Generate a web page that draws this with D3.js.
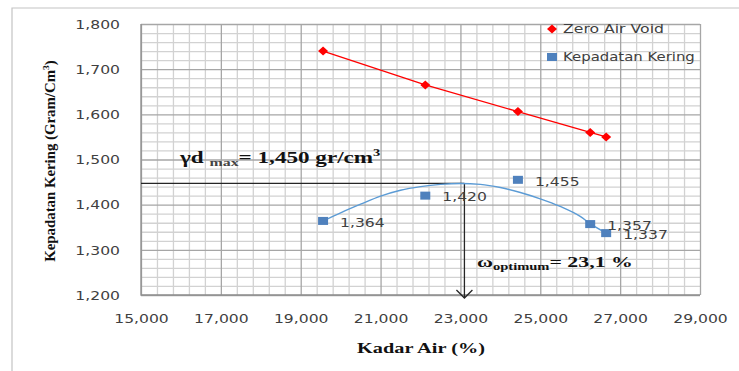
<!DOCTYPE html>
<html><head><meta charset="utf-8">
<script src="https://cdn.jsdelivr.net/npm/d3@7"></script>
<style>body{margin:0;background:#fff}svg{display:block}</style></head>
<body>
<svg id="c" width="739" height="371"></svg>
<script>
// ---- data ----
const xTicks = [15000, 17000, 19000, 21000, 23000, 25000, 27000, 29000];
const yTicks = [1200, 1300, 1400, 1500, 1600, 1700, 1800];
const moisture = [19560, 22120, 24440, 26250, 26650];
const zeroAirVoid = [1740, 1665, 1606, 1560, 1550];
const dryDensity = [1364, 1420, 1455, 1357, 1337];
const trendMoisture = [19560, 20000, 20500, 21000, 21500, 22000, 22500, 23000, 23500, 24000, 24500, 25000, 25500, 26000, 26250, 26650];
const trendDensity = [1364, 1382, 1401, 1419, 1432, 1440, 1445, 1447, 1445, 1438, 1427, 1413, 1396, 1374, 1358, 1337];
const seriesNames = ["Zero Air Void", "Kepadatan Kering"];
const maxDensityLine = 1447;
const maxDensityText = "1,450";
const optimumMoisture = 23100;
const optimumText = "23,1 %";

// ---- setup ----
const svg = d3.select("#c");
const L = 141, R = 700, T = 24, B = 295;
const x = d3.scaleLinear().domain([15000, 29000]).range([L, R]);
const y = d3.scaleLinear().domain([1200, 1800]).range([B, T]);
const fmt = d3.format(",.0f");
const sans = "'DejaVu Sans', sans-serif";
const serif = "'Liberation Serif', 'Times New Roman', serif";
const RED = "#ff0000", BLUE = "#4f81bd", TREND = "#5b9bd5";

function fitWidth(t, px, py, width, rot) {
  const w = t.node().getBBox().width;
  const s = width / w;
  t.attr("x", 0).attr("y", 0)
   .attr("transform", `translate(${px},${py})` + (rot ? ` rotate(${rot})` : "") + ` scale(${s},1)`);
}

// outer border
svg.append("path").attr("d", "M12,371V8H739").attr("fill", "none").attr("stroke", "#c3c3c3").attr("stroke-width", 1.2);

// grid via axes
const minorX = d3.range(15000, 29001, 400);
const minorY = d3.range(1200, 1801, 20);
function grid(g, color) {
  g.select(".domain").remove();
  g.selectAll("line").attr("stroke", color).attr("stroke-width", 1.3);
  g.selectAll("text").remove();
}
svg.append("g").attr("transform", `translate(0,${B})`)
  .call(d3.axisBottom(x).tickValues(minorX.filter(v => !xTicks.includes(v))).tickSize(-(B - T)).tickFormat(""))
  .call(g => grid(g, "#d2d2d2"));
svg.append("g").attr("transform", `translate(${L},0)`)
  .call(d3.axisLeft(y).tickValues(minorY.filter(v => !yTicks.includes(v))).tickSize(-(R - L)).tickFormat(""))
  .call(g => grid(g, "#d2d2d2"));
svg.append("g").attr("transform", `translate(0,${B})`)
  .call(d3.axisBottom(x).tickValues(xTicks).tickSize(-(B - T)).tickFormat(""))
  .call(g => grid(g, "#a6a6a6"));
svg.append("g").attr("transform", `translate(${L},0)`)
  .call(d3.axisLeft(y).tickValues(yTicks).tickSize(-(R - L)).tickFormat(""))
  .call(g => grid(g, "#a6a6a6"));
// plot edges
svg.append("path").attr("d", `M${L},${T}V${B}H${R}`).attr("fill", "none").attr("stroke", "#8f8f8f").attr("stroke-width", 1.3);

// tick labels via axes
const TS = 1.3;
svg.append("g").attr("transform", `translate(${L},0)`)
  .call(d3.axisLeft(y).tickValues(yTicks).tickSize(0).tickFormat(fmt))
  .call(g => {
    g.select(".domain").remove();
    g.selectAll("text").attr("x", 0).attr("dy", "0.35em")
      .attr("font-family", sans).attr("font-size", 12).attr("fill", "#404040")
      .attr("text-anchor", "end").attr("transform", `translate(-21,0) scale(${TS},1)`);
  });
svg.append("g").attr("transform", `translate(0,${B})`)
  .call(d3.axisBottom(x).tickValues(xTicks).tickSize(0).tickFormat(fmt))
  .call(g => {
    g.select(".domain").remove();
    g.selectAll("text").attr("y", 0).attr("dy", "0.35em")
      .attr("font-family", sans).attr("font-size", 12).attr("fill", "#404040")
      .attr("text-anchor", "middle").attr("transform", `translate(0,24) scale(${TS},1)`);
  });

// annotation: max density line & optimum arrow
const xo = x(optimumMoisture), ym = y(maxDensityLine);
svg.append("line").attr("x1", L).attr("x2", xo).attr("y1", ym).attr("y2", ym)
  .attr("stroke", "#262626").attr("stroke-width", 1.3);
svg.append("line").attr("x1", xo).attr("x2", xo).attr("y1", ym).attr("y2", B + 3)
  .attr("stroke", "#262626").attr("stroke-width", 1.3);
svg.append("polyline").attr("points", `${xo - 8},${B - 5} ${xo},${B + 3} ${xo + 8},${B - 5}`)
  .attr("fill", "none").attr("stroke", "#262626").attr("stroke-width", 1.3);

// zero air void series
const zav = moisture.map((m, i) => [m, zeroAirVoid[i]]);
svg.append("path").datum(zav)
  .attr("d", d3.line().x(d => x(d[0])).y(d => y(d[1])))
  .attr("fill", "none").attr("stroke", RED).attr("stroke-width", 1.3);
const diamond = "M0,-4.5L5,0L0,4.5L-5,0Z";
svg.selectAll(".zav").data(zav).join("path").attr("class", "zav")
  .attr("d", diamond).attr("transform", d => `translate(${x(d[0])},${y(d[1])})`).attr("fill", RED);

// dry density trend & markers
const trend = trendMoisture.map((m, i) => [m, trendDensity[i]]);
svg.append("path").datum(trend)
  .attr("d", d3.line().x(d => x(d[0])).y(d => y(d[1])).curve(d3.curveMonotoneX))
  .attr("fill", "none").attr("stroke", TREND).attr("stroke-width", 1.4);
const dd = moisture.map((m, i) => [m, dryDensity[i]]);
svg.selectAll(".dd").data(dd).join("rect").attr("class", "dd")
  .attr("x", d => x(d[0]) - 5).attr("y", d => y(d[1]) - 4)
  .attr("width", 10).attr("height", 8).attr("fill", BLUE);
svg.selectAll(".ddl").data(dd).join("text").attr("class", "ddl")
  .attr("x", 0).attr("y", 0).attr("dy", "0.35em")
  .attr("font-family", sans).attr("font-size", 12).attr("fill", "#404040")
  .attr("transform", d => `translate(${x(d[0]) + 17},${y(d[1]) + 1.5}) scale(${TS},1)`)
  .text(d => fmt(d[1]));

// legend
const lg = svg.append("g");
lg.append("path").attr("d", diamond).attr("transform", "translate(552,29)").attr("fill", RED);
lg.append("rect").attr("x", 547).attr("y", 53).attr("width", 10).attr("height", 8).attr("fill", BLUE);
const lt1 = lg.append("text").attr("dy", "0.35em").attr("font-family", sans).attr("font-size", 12).attr("fill", "#404040").text(seriesNames[0]);
fitWidth(lt1, 563, 29, 101);
const lt2 = lg.append("text").attr("dy", "0.35em").attr("font-family", sans).attr("font-size", 12).attr("fill", "#404040").text(seriesNames[1]);
fitWidth(lt2, 563, 57, 132);

// gamma d max text
const gt = svg.append("text").attr("font-family", serif).attr("font-weight", "bold").attr("font-size", 16).attr("fill", "#111");
gt.append("tspan").text("γd ");
gt.append("tspan").attr("font-size", 11).attr("dy", 3).attr("fill", "#444").text("max");
gt.append("tspan").attr("dy", -3).text("= " + maxDensityText + " gr/cm");
gt.append("tspan").attr("font-size", 10).attr("dy", -7).text("3");
fitWidth(gt, 180, 163, 202);

// omega optimum text
const ot = svg.append("text").attr("font-family", serif).attr("font-weight", "bold").attr("font-size", 15).attr("fill", "#111");
ot.append("tspan").text("ω");
ot.append("tspan").attr("font-size", 10).attr("dy", 3).text("optimum");
ot.append("tspan").attr("dy", -3).text("= " + optimumText);
fitWidth(ot, 477, 267, 156);

// axis titles
const xt = svg.append("text").attr("font-family", serif).attr("font-weight", "bold").attr("font-size", 15)
  .attr("fill", "#111").attr("text-anchor", "middle").text("Kadar Air (%)");
fitWidth(xt, 421, 353, 128);
const yt = svg.append("text").attr("font-family", serif).attr("font-weight", "bold").attr("font-size", 14)
  .attr("fill", "#111").attr("text-anchor", "middle");
yt.append("tspan").text("Kepadatan Kering (Gram/Cm");
yt.append("tspan").attr("font-size", 9).attr("dy", -6).text("3");
yt.append("tspan").attr("dy", 6).text(")");
fitWidth(yt, 55, 161, 202, -90);
</script>
</body></html>
